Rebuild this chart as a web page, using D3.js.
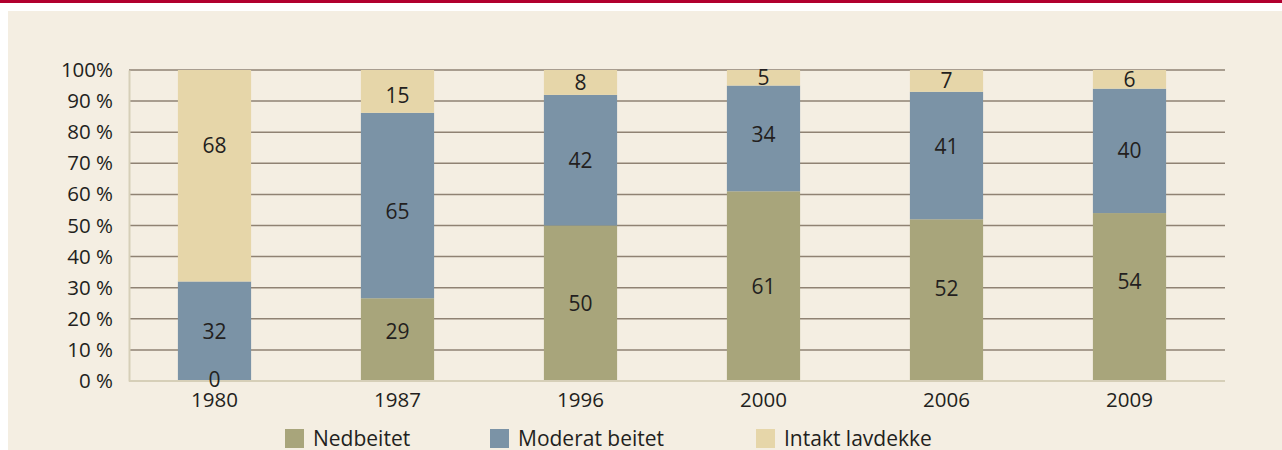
<!DOCTYPE html>
<html>
<head>
<meta charset="utf-8">
<script src="https://cdn.jsdelivr.net/npm/d3@7/dist/d3.min.js"></script>
<style>
  html, body { margin: 0; padding: 0; background: #ffffff; }
  svg { display: block; }
</style>
</head>
<body>
<div id="canvas"></div>
<script>
var years = ['1980', '1987', '1996', '2000', '2006', '2009']
var nedbeitet = [0, 29, 50, 61, 52, 54]
var moderat = [32, 65, 42, 34, 41, 40]
var intakt = [68, 15, 8, 5, 7, 6]
var seriesNames = ['Nedbeitet', 'Moderat beitet', 'Intakt lavdekke']
var seriesKeys = ['ned', 'mod', 'int']
var yTicks = [0, 0.1, 0.2, 0.3, 0.4, 0.5, 0.6, 0.7, 0.8, 0.9, 1]
var yTickLabels = ['0 %', '10 %', '20 %', '30 %', '40 %', '50 %', '60 %', '70 %', '80 %', '90 %', '100%']

var colors = { ned: '#a8a57b', mod: '#7b93a6', int: '#e6d6a9' }
var font = 'Open Sans'
var textColor = '#231f20'

// the original labels are hand placed, not always mid-segment (px nudge)
var labelNudge = {
  'int-1980': -30, 'ned-1987': -8, 'mod-1987': 6, 'int-1987': 4,
  'mod-2000': -4, 'ned-2006': -12, 'mod-2006': -9, 'ned-2009': -16, 'ned-1980': -2
}

var width = 1282, height = 450
var plotLeft = 129, plotRight = 1225, plotTop = 70, plotBottom = 381

var rows = years.map(function (y, i) {
  return { year: y, ned: nedbeitet[i], mod: moderat[i], int: intakt[i] }
})

var svg = d3.select('#canvas').append('svg')
  .attr('width', width)
  .attr('height', height)

// frame: red rule, white strip, beige panel
svg.append('rect').attr('x', 0).attr('y', 0).attr('width', width).attr('height', 3).attr('fill', '#b1002f')
svg.append('rect').attr('x', 8).attr('y', 11).attr('width', width - 8).attr('height', height - 11).attr('fill', '#f4eee2')

var x = d3.scaleBand().domain(years).range([123, 1221]).paddingInner(0.6).paddingOuter(0.3)
var y = d3.scaleLinear().domain([0, 1]).range([plotBottom, plotTop])

// gridlines
svg.append('g').selectAll('line')
  .data(yTicks.slice(1))
  .enter().append('line')
  .attr('x1', plotLeft).attr('x2', plotRight)
  .attr('y1', function (d) { return y(d) }).attr('y2', function (d) { return y(d) })
  .attr('stroke', '#8f8273').attr('stroke-width', 1.5)

// y axis
var yAxis = svg.append('g')
  .attr('transform', 'translate(' + plotLeft + ',0)')
  .call(d3.axisLeft(y).tickValues(yTicks).tickSize(0).tickPadding(16)
    .tickFormat(function (d, i) { return yTickLabels[i] }))
yAxis.select('.domain').attr('stroke', '#d6cfb8').attr('stroke-width', 2)
yAxis.selectAll('text').attr('font-family', font).attr('font-size', '20.5px').attr('fill', textColor)

// stacked bars (percent of total)
var stack = d3.stack().keys(seriesKeys).offset(d3.stackOffsetExpand)
var layers = stack(rows)

var groups = svg.append('g').selectAll('g')
  .data(layers)
  .enter().append('g')
  .attr('fill', function (d) { return colors[d.key] })

groups.selectAll('rect')
  .data(function (d) { return d })
  .enter().append('rect')
  .attr('x', function (d) { return x(d.data.year) })
  .attr('width', x.bandwidth())
  .attr('y', function (d) { return y(d[1]) })
  .attr('height', function (d) { return y(d[0]) - y(d[1]) })

// x axis
var xAxis = svg.append('g')
  .attr('transform', 'translate(0,' + plotBottom + ')')
  .call(d3.axisBottom(x).tickSize(0).tickPadding(11))
xAxis.select('.domain').attr('d', 'M' + plotLeft + ',0H' + plotRight).attr('stroke', '#d6cfb8').attr('stroke-width', 2)
xAxis.selectAll('text').attr('font-family', font).attr('font-size', '20.5px').attr('fill', textColor)

// value labels
layers.forEach(function (layer) {
  svg.append('g').selectAll('text')
    .data(layer)
    .enter().append('text')
    .attr('x', function (d) { return x(d.data.year) + x.bandwidth() / 2 })
    .attr('y', function (d) {
      var nudge = labelNudge[layer.key + '-' + d.data.year] || 0
      return (y(d[0]) + y(d[1])) / 2 + nudge
    })
    .attr('dy', '0.36em')
    .attr('text-anchor', 'middle')
    .attr('font-family', font)
    .attr('font-size', '21px')
    .attr('fill', textColor)
    .text(function (d) { return d.data[layer.key] })
})

// legend
var legendX = [285, 490, 756]
var legend = svg.append('g').selectAll('g')
  .data(seriesKeys)
  .enter().append('g')
  .attr('transform', function (d, i) { return 'translate(' + legendX[i] + ',429)' })
legend.append('rect').attr('width', 19).attr('height', 19).attr('fill', function (d) { return colors[d] })
legend.append('text')
  .attr('x', 28).attr('y', 17)
  .attr('font-family', font).attr('font-size', '21px').attr('fill', textColor)
  .text(function (d, i) { return seriesNames[i] })
</script>
</body>
</html>
